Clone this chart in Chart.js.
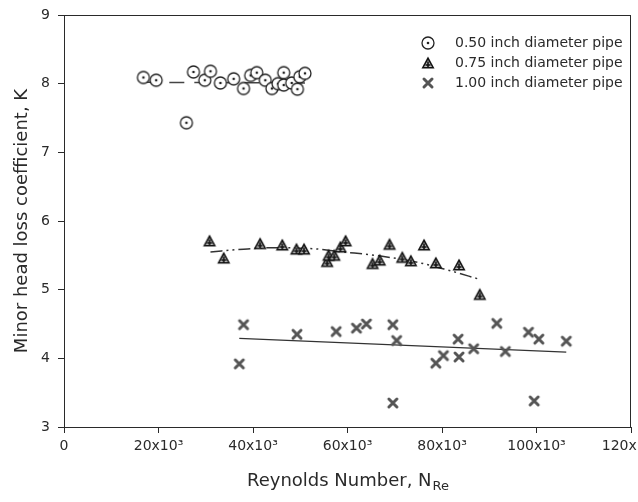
<!DOCTYPE html>
<html>
<head>
<meta charset="utf-8">
<script src="https://cdn.jsdelivr.net/npm/chart.js@4.4.0/dist/chart.umd.min.js"></script>
<style>
html,body{margin:0;padding:0;background:#fff;}
canvas{display:block;}
</style>
</head>
<body>
<canvas id="c" width="638" height="502"></canvas>
<script>
// ---- Data (Reynolds number, K) ----
const seriesNames = ['0.50 inch diameter pipe', '0.75 inch diameter pipe', '1.00 inch diameter pipe'];

const pipe050X = [16800,19500,25900,27400,29800,31000,33100,35900,38000,39500,40800,42600,44000,45300,46500,46500,48200,49400,49900,51000];
const pipe050K = [8.09,8.05,7.43,8.17,8.05,8.18,8.01,8.07,7.93,8.12,8.16,8.05,7.93,8.00,8.16,7.98,8.01,7.92,8.10,8.15];

const pipe075X = [30800,33800,41500,46200,49200,50800,55700,56000,57200,58500,59600,65300,66800,68900,71600,73400,76200,78700,83600,88000];
const pipe075K = [5.71,5.46,5.67,5.65,5.59,5.59,5.41,5.50,5.50,5.62,5.71,5.38,5.43,5.66,5.47,5.42,5.65,5.39,5.36,4.93];

const pipe100X = [37100,38000,49300,57600,61900,64000,69600,69600,70400,78700,80300,83400,83600,86700,91600,93400,98300,99500,100500,106300];
const pipe100K = [3.92,4.49,4.35,4.39,4.44,4.50,4.49,3.35,4.26,3.93,4.04,4.28,4.02,4.14,4.51,4.10,4.38,3.38,4.28,4.25];

// fitted trend lines
const fit050X = [17000, 51000];
const fit050K = [8.02, 8.01];
const fit075X = [31000,38000,44000,52000,59000,67000,76000,81000,88000];
const fit075K = [5.55,5.59,5.61,5.60,5.55,5.49,5.38,5.29,5.15];
const fit100X = [37100, 106300];
const fit100K = [4.29, 4.09];

const xTicks = [0,20000,40000,60000,80000,100000,120000];
const yTicks = [3,4,5,6,7,8,9];

// ---- helpers ----
const zip = (xs, ys) => xs.map((x, i) => ({x: x, y: ys[i]}));
const FONT = '"DejaVu Sans", "Liberation Sans", Arial, sans-serif';
const INK = '#2a2a2a';

function makeCircle() {
  const c = document.createElement('canvas'); c.width = 16; c.height = 16;
  const g = c.getContext('2d');
  g.fillStyle = '#fff'; g.strokeStyle = '#222'; g.lineWidth = 1.3;
  g.beginPath(); g.arc(8, 8, 6, 0, Math.PI * 2); g.fill(); g.stroke();
  g.fillStyle = '#222'; g.beginPath(); g.arc(8, 8, 1.3, 0, Math.PI * 2); g.fill();
  return c;
}
function makeTriangle() {
  const c = document.createElement('canvas'); c.width = 16; c.height = 16;
  const g = c.getContext('2d');
  g.fillStyle = '#111';
  g.beginPath(); g.moveTo(8, 1.5); g.lineTo(14.5, 13.5); g.lineTo(1.5, 13.5); g.closePath(); g.fill();
  g.fillStyle = '#bdbdbd';
  g.beginPath(); g.moveTo(8, 5); g.lineTo(12, 12); g.lineTo(4, 12); g.closePath(); g.fill();
  g.strokeStyle = '#111'; g.lineWidth = 1.6;
  g.beginPath(); g.moveTo(8, 6.5); g.lineTo(8, 12.5); g.moveTo(5.5, 10); g.lineTo(10.5, 10); g.stroke();
  return c;
}
function makeCross() {
  const c = document.createElement('canvas'); c.width = 14; c.height = 14;
  const g = c.getContext('2d');
  g.strokeStyle = '#555'; g.lineWidth = 3; g.lineCap = 'round';
  g.beginPath(); g.moveTo(3, 3); g.lineTo(11, 11); g.moveTo(11, 3); g.lineTo(3, 11); g.stroke();
  return c;
}
const markers = [makeCircle(), makeTriangle(), makeCross()];

const frameAndText = {
  id: 'frameAndText',
  afterDraw(chart) {
    const ctx = chart.ctx, a = chart.chartArea;
    ctx.save();
    // box
    ctx.strokeStyle = INK; ctx.lineWidth = 1;
    ctx.strokeRect(Math.round(a.left) + 0.5, Math.round(a.top) + 0.5, Math.round(a.right - a.left) - 1, Math.round(a.bottom - a.top));
    // legend
    ctx.font = '14px ' + FONT; ctx.fillStyle = INK; ctx.textBaseline = 'middle'; ctx.textAlign = 'left';
    const rows = [43, 63, 83];
    seriesNames.forEach((n, i) => {
      const m = markers[i];
      ctx.drawImage(m, 428 - m.width / 2, rows[i] - m.height / 2);
      ctx.fillText(n, 455, rows[i]);
    });
    // y title
    ctx.save();
    ctx.translate(22, (a.top + a.bottom) / 2);
    ctx.rotate(-Math.PI / 2);
    ctx.textAlign = 'center'; ctx.font = '18px ' + FONT;
    ctx.fillText('Minor head loss coefficient, K', 0, 0);
    ctx.restore();
    // x title with subscript
    ctx.font = '18px ' + FONT;
    const main = 'Reynolds Number, N';
    const w1 = ctx.measureText(main).width;
    ctx.font = '13px ' + FONT;
    const w2 = ctx.measureText('Re').width;
    const cx = (a.left + a.right) / 2;
    const x0 = cx - (w1 + w2) / 2;
    ctx.font = '18px ' + FONT; ctx.textAlign = 'left';
    ctx.fillText(main, x0, 481);
    ctx.font = '13px ' + FONT;
    ctx.fillText('Re', x0 + w1 + 1, 487);
    ctx.restore();
  }
};

const tickFmtX = v => v === 0 ? '0' : (v / 1000) + 'x10\u00B3';

new Chart(document.getElementById('c'), {
  type: 'scatter',
  data: {
    datasets: [
      {data: zip(pipe050X, pipe050K), pointStyle: markers[0], pointRadius: 6},
      {data: zip(pipe075X, pipe075K), pointStyle: markers[1], pointRadius: 6},
      {data: zip(pipe100X, pipe100K), pointStyle: markers[2], pointRadius: 6},
      {data: zip(fit050X, fit050K), showLine: true, pointRadius: 0, borderColor: '#444', borderWidth: 1.5, borderDash: [15, 10]},
      {data: zip(fit075X, fit075K), showLine: true, pointRadius: 0, borderColor: '#333', borderWidth: 1.5, borderDash: [12, 4, 2, 4, 2, 4], tension: 0.4, cubicInterpolationMode: 'monotone'},
      {data: zip(fit100X, fit100K), showLine: true, pointRadius: 0, borderColor: '#333', borderWidth: 1.3}
    ]
  },
  options: {
    responsive: false,
    animation: false,
    devicePixelRatio: 1,
    layout: {padding: {top: 15, right: 3, left: 0, bottom: 0}},
    plugins: {legend: {display: false}, tooltip: {enabled: false}},
    scales: {
      x: {
        type: 'linear', min: 0, max: 120000,
        afterBuildTicks: s => { s.ticks = xTicks.map(v => ({value: v})); },
        ticks: {callback: tickFmtX, font: {family: FONT, size: 14}, color: INK, padding: 5, maxRotation: 0, autoSkip: false},
        grid: {drawOnChartArea: false, drawTicks: true, tickLength: 6, color: INK},
        border: {display: true, color: INK},
        afterFit: s => { s.height = 75; s.paddingLeft = 0; s.paddingRight = 0; }
      },
      y: {
        type: 'linear', min: 3, max: 9,
        afterBuildTicks: s => { s.ticks = yTicks.map(v => ({value: v})); },
        ticks: {font: {family: FONT, size: 14}, color: INK, padding: 8},
        grid: {drawOnChartArea: false, drawTicks: true, tickLength: 6, color: INK},
        border: {display: true, color: INK},
        afterFit: s => { s.width = 64; s.paddingTop = 0; s.paddingBottom = 0; }
      }
    }
  },
  plugins: [frameAndText]
});
</script>
</body>
</html>
